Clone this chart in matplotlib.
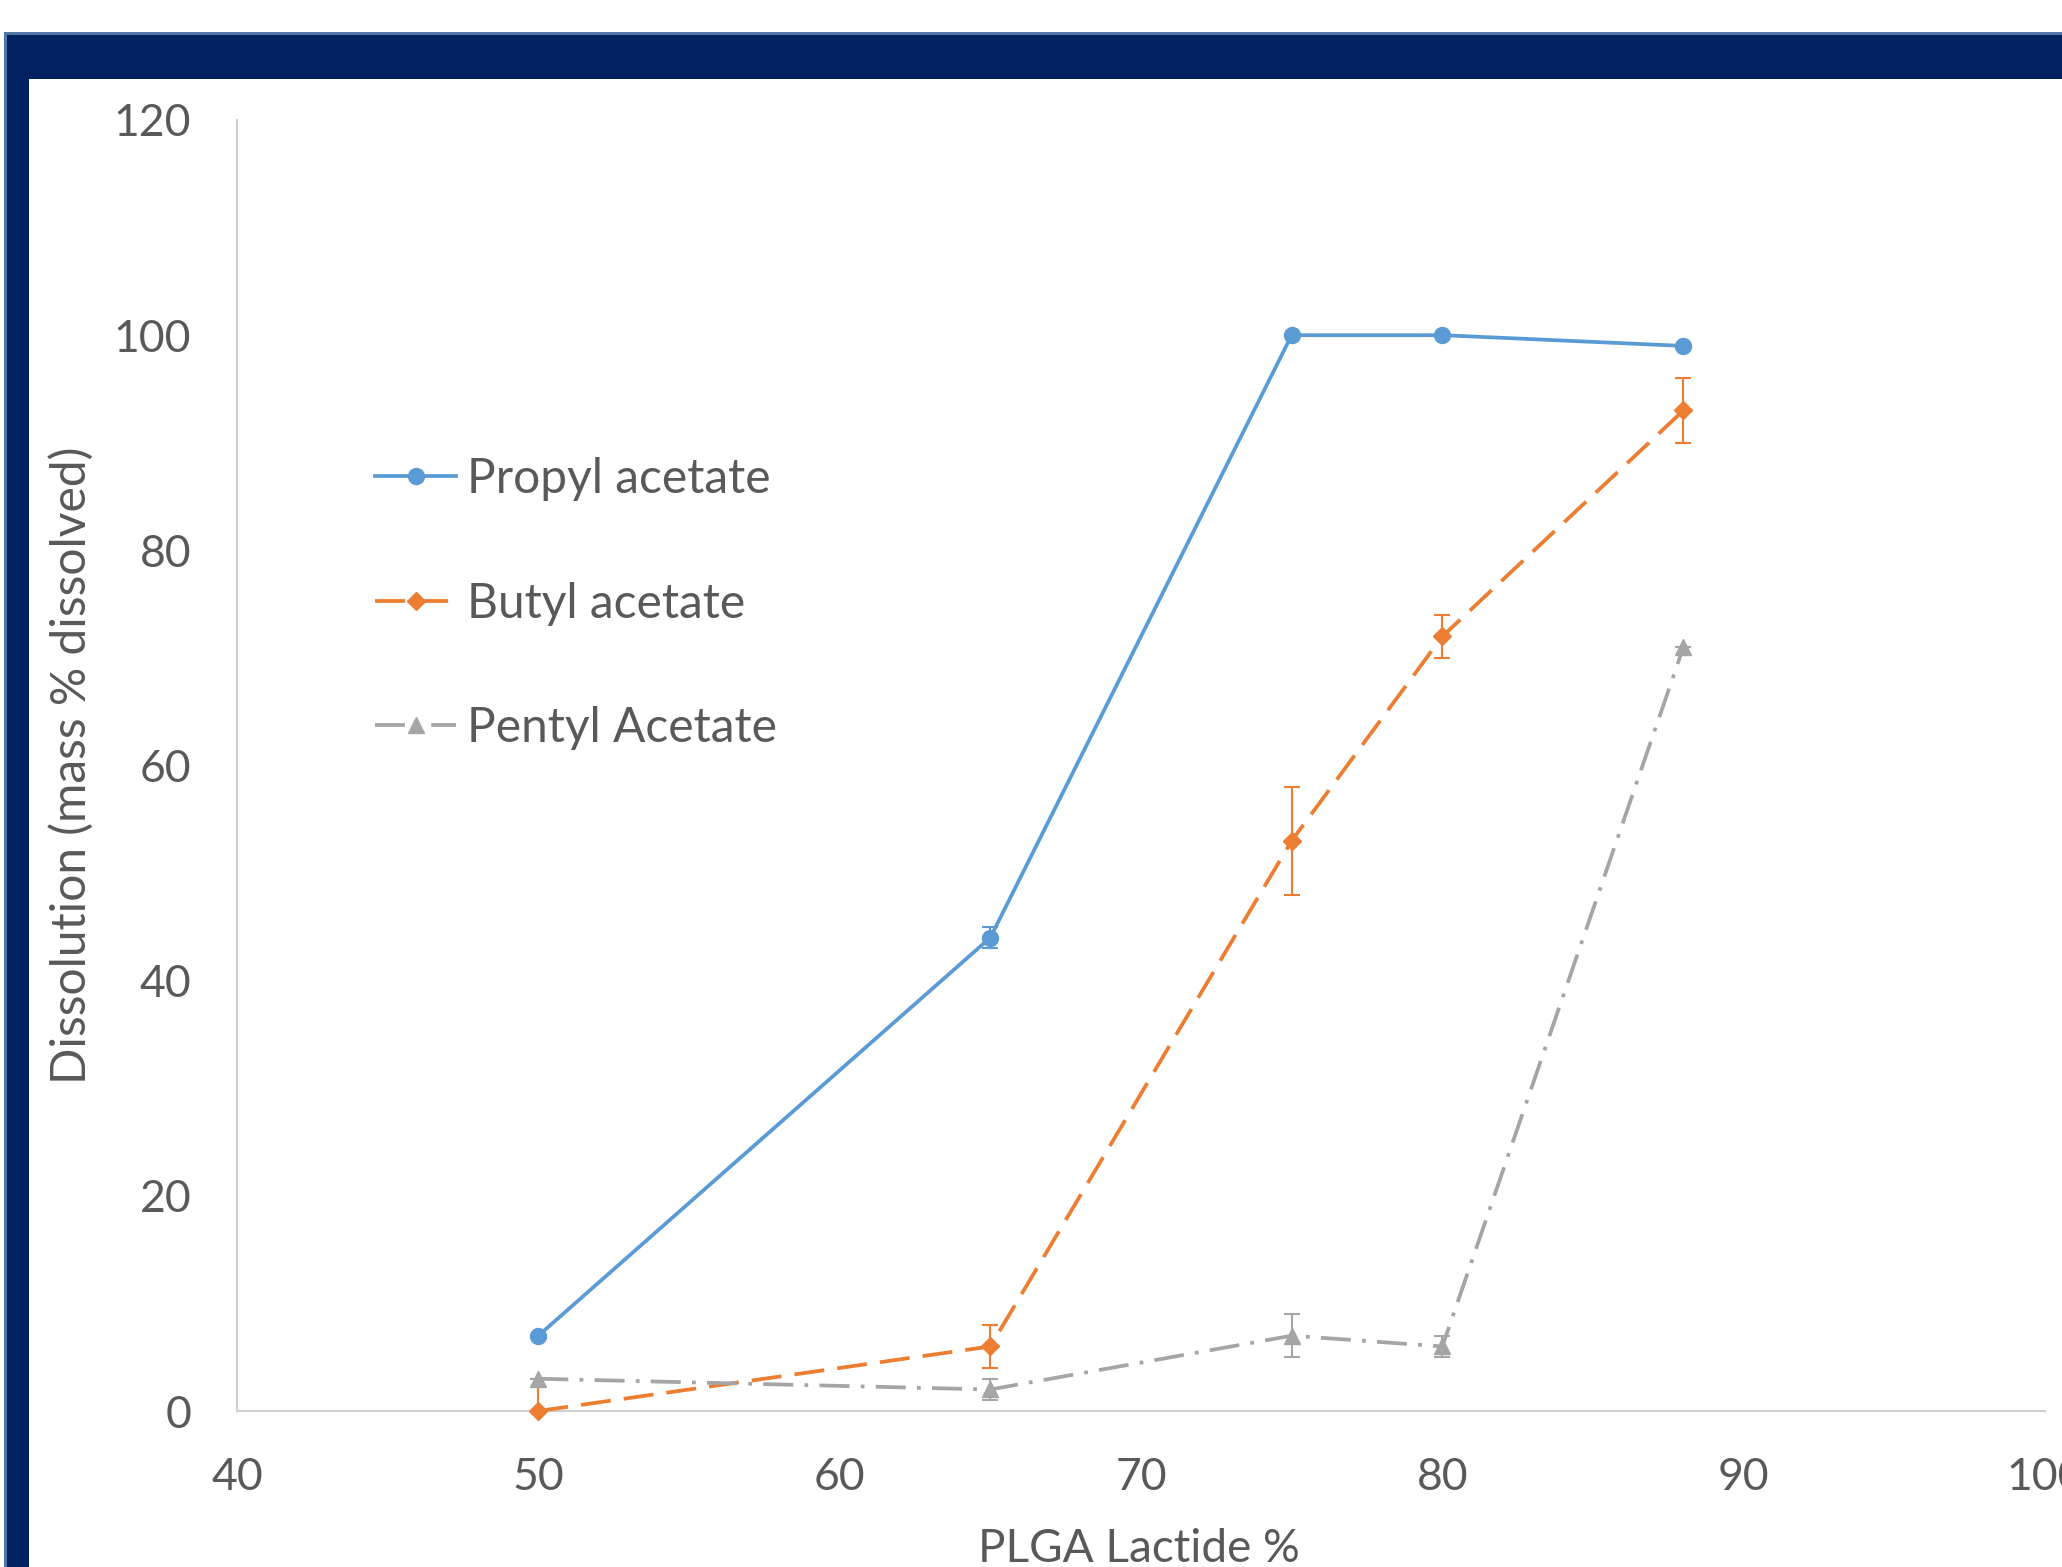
import matplotlib
matplotlib.use("Agg")
import matplotlib.pyplot as plt
from matplotlib.patches import Rectangle

plt.rcParams['font.family'] = ['Lato', 'DejaVu Sans']

# ---- data ----
lactide = [50, 65, 75, 80, 88]
propyl = [7, 44, 100, 100, 99]
propyl_err = [0, 1, 0, 0, 0]
butyl = [0, 6, 53, 72, 93]
butyl_err = [3, 2, 5, 2, 3]
pentyl = [3, 2, 7, 6, 71]
pentyl_err = [0, 1, 2, 1, 0]
series_names = ["Propyl acetate", "Butyl acetate", "Pentyl Acetate"]
x_ticks = [40, 50, 60, 70, 80, 90, 100]
y_ticks = [0, 20, 40, 60, 80, 100, 120]

W, H = 2062, 1567
fig = plt.figure(figsize=(W / 100, H / 100), dpi=100)
fig.patch.set_facecolor('white')

# frame (dark navy band top and left)
navy = '#002060'
edge = '#4F76A6'
fig.patches.append(Rectangle((4 / W, 1 - 79 / H), 1 - 4 / W, 47 / H, transform=fig.transFigure,
                             facecolor=navy, edgecolor='none', zorder=0))
fig.patches.append(Rectangle((4 / W, 0), 25 / W, 1 - 32 / H, transform=fig.transFigure,
                             facecolor=navy, edgecolor='none', zorder=0))
fig.patches.append(Rectangle((4 / W, 1 - 35 / H), 1 - 4 / W, 3 / H, transform=fig.transFigure,
                             facecolor=edge, edgecolor='none', zorder=1))
fig.patches.append(Rectangle((4 / W, 0), 3 / W, 1 - 32 / H, transform=fig.transFigure,
                             facecolor=edge, edgecolor='none', zorder=1))

ax = fig.add_axes([237 / W, 156 / H, (2045 - 237) / W, (1411 - 120) / H])
ax.set_facecolor('none')

blue = '#5B9BD5'
orange = '#ED7D31'
gray = '#A5A5A5'
lw = 2.7

styles = [
    (propyl, propyl_err, blue, '-', 'o', 11.5),
    (butyl, butyl_err, orange, (0, (8, 3.5)), 'D', 9),
    (pentyl, pentyl_err, gray, (0, (8, 3, 1, 3)), '^', 11),
]
handles = []
for (vals, errs, col, ls, mk, ms), name in zip(styles, series_names):
    ax.errorbar(lactide, vals, yerr=errs, fmt='none', ecolor=col, elinewidth=1.5,
                capsize=6, capthick=1.5, zorder=3)
    h, = ax.plot(lactide, vals, color=col, linestyle=ls, linewidth=lw, marker=mk,
                 markersize=ms, markeredgecolor=col, markerfacecolor=col, clip_on=False,
                 label=name, zorder=4)
    handles.append(h)

ax.set_xlim(40, 100)
ax.set_ylim(0, 120)
ax.set_xticks(x_ticks)
ax.set_yticks(y_ticks)
ax.set_xticklabels([str(v) for v in x_ticks])
ax.set_yticklabels([str(v) for v in y_ticks])

for s in ['top', 'right']:
    ax.spines[s].set_visible(False)
for s in ['left', 'bottom']:
    ax.spines[s].set_color('#D0D0D0')
    ax.spines[s].set_linewidth(1.5)

ax.tick_params(axis='both', length=0, labelsize=32, labelcolor='#595959')
ax.tick_params(axis='y', pad=33)
ax.tick_params(axis='x', pad=33)

ax.set_xlabel("PLGA Lactide %", fontsize=33, color='#595959', va='center')
ax.xaxis.set_label_coords(0.499, -0.107)
ax.set_ylabel("Dissolution (mass % dissolved)", fontsize=34.5, color='#595959', va='center')
ax.yaxis.set_label_coords(-0.0913, 0.5)

leg = ax.legend(handles=handles, loc='upper left', bbox_to_anchor=(375 / W, 1 - 457 / H),
                bbox_transform=fig.transFigure, frameon=False, fontsize=34.5,
                handlelength=1.7, handletextpad=0.22, labelspacing=1.68, borderpad=0,
                borderaxespad=0)
for t in leg.get_texts():
    t.set_color('#595959')

fig.savefig('out.png', dpi=100, facecolor='white')
